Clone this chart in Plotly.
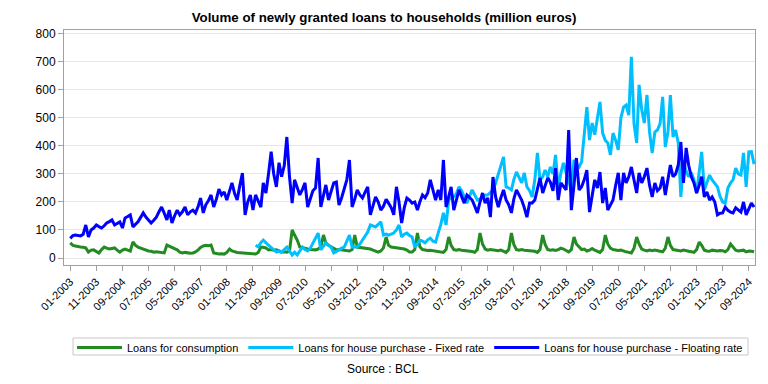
import pandas as pd
import plotly.graph_objects as go

start_month = "2003-01-01"
n_months = 263

consumption = [
    54, 45, 43, 40, 39, 38, 36, 21, 28, 29, 24, 18,
    30, 39, 35, 32, 34, 36, 28, 21, 28, 32, 28, 25,
    57, 45, 39, 35, 32, 28, 25, 24, 21, 22, 21, 20,
    18, 46, 42, 39, 33, 29, 21, 18, 20, 18, 17, 18,
    22, 29, 38, 43, 45, 44, 46, 18, 15, 14, 15, 14,
    20, 32, 25, 21, 20, 19, 18, 17, 18, 16, 15, 14,
    20, 39, 38, 36, 29, 30, 28, 29, 25, 21, 22, 21,
    25, 100, 82, 64, 39, 36, 34, 32, 30, 29, 29, 32,
    39, 82, 54, 45, 39, 32, 29, 30, 29, 29, 27, 25,
    30, 82, 39, 38, 36, 36, 34, 32, 28, 25, 21, 25,
    36, 75, 45, 39, 38, 36, 35, 34, 32, 28, 21, 21,
    30, 89, 40, 30, 28, 27, 28, 26, 25, 24, 22, 20,
    30, 75, 45, 30, 28, 30, 28, 27, 25, 26, 23, 20,
    30, 89, 50, 32, 28, 30, 28, 27, 26, 28, 24, 20,
    30, 89, 48, 30, 28, 30, 28, 27, 27, 25, 24, 20,
    30, 82, 48, 30, 28, 29, 27, 30, 35, 32, 26, 22,
    30, 75, 50, 40, 30, 32, 25, 28, 34, 28, 25, 20,
    30, 82, 50, 35, 30, 28, 27, 28, 24, 22, 20, 18,
    35, 75, 50, 32, 28, 25, 28, 26, 28, 25, 24, 22,
    35, 75, 45, 30, 28, 26, 25, 28, 25, 24, 22, 20,
    30, 57, 45, 28, 25, 24, 28, 26, 25, 27, 26, 22,
    30, 50, 40, 28, 25, 27, 28, 22, 25, 24, 22,
]

fixed_rate = [None] * 71 + [
    45,
    40, 55, 64, 54, 45, 36, 28, 21, 25, 21, 30, 39,
    25, 11, 21, 11, 25, 39, 30, 25, 35, 54, 70, 89,
    29, 40, 54, 45, 39, 18, 25, 29, 35, 39, 60, 82,
    39, 40, 39, 50, 64, 80, 93, 118, 115, 111, 120, 129,
    82, 85, 82, 85, 89, 100, 118, 75, 85, 89, 80, 75,
    39, 50, 64, 60, 54, 65, 71, 60, 57, 89, 120, 161,
    118, 207, 215, 218, 230, 254, 240, 218, 196, 220, 243, 225,
    207, 210, 218, 225, 225, 235, 243, 268, 300, 325, 361, 254,
    250, 243, 280, 307, 290, 268, 304, 254, 240, 218, 279, 375,
    279, 290, 314, 290, 325, 300, 368, 243, 304, 340, 304, 280,
    236, 350, 332, 325, 343, 432, 539, 421, 482, 440, 493, 557,
    446, 420, 411, 368, 446, 420, 386, 500, 539, 546, 510, 718,
    480, 411, 618, 529, 482, 582, 450, 375, 450, 457, 480, 575,
    396, 450, 582, 432, 457, 411, 218, 339, 310, 290, 304, 279,
    232, 300, 379, 243, 270, 296, 279, 265, 254, 220, 200, 196,
    250, 268, 279, 321, 300, 296, 375, 254, 379, 380, 335,
]

floating_rate = [
    70, 80, 82, 80, 79, 85, 118, 75, 100, 107, 118, 112,
    107, 115, 125, 130, 136, 118, 125, 129, 107, 143, 148, 154,
    111, 120, 129, 145, 161, 146, 135, 125, 135, 146, 165, 182,
    160, 136, 171, 125, 150, 171, 154, 165, 182, 154, 165, 171,
    161, 185, 214, 161, 190, 205, 225, 182, 210, 246, 225, 236,
    207, 240, 268, 230, 207, 260, 303, 154, 200, 225, 171, 225,
    200, 182, 268, 232, 300, 380, 300, 254, 340, 290, 330, 432,
    290, 196, 279, 250, 225, 245, 268, 182, 210, 240, 250, 357,
    182, 220, 261, 207, 240, 268, 271, 189, 215, 243, 280, 350,
    182, 210, 243, 225, 214, 235, 254, 154, 190, 218, 200, 171,
    185, 210, 196, 180, 154, 254, 200, 125, 180, 214, 207, 196,
    200, 171, 200, 225, 215, 232, 279, 240, 207, 243, 207, 350,
    182, 220, 254, 171, 210, 243, 220, 196, 225, 215, 207, 185,
    161, 200, 232, 196, 215, 146, 289, 218, 182, 215, 243, 207,
    190, 161, 210, 243, 225, 207, 180, 146, 196, 196, 207, 250,
    286, 232, 260, 286, 271, 240, 321, 207, 268, 255, 243, 457,
    171, 260, 357, 243, 254, 280, 314, 164, 230, 279, 250, 307,
    196, 250, 171, 190, 207, 260, 304, 207, 304, 268, 290, 325,
    280, 232, 304, 268, 290, 321, 260, 218, 268, 240, 250, 290,
    225, 280, 332, 290, 300, 332, 414, 268, 393, 330, 290, 268,
    232, 260, 290, 218, 236, 207, 218, 200, 154, 160, 161, 182,
    170, 164, 161, 179, 170, 164, 200, 154, 175, 196, 182,
]

series_names = [
    "Loans for consumption",
    "Loans for house purchase - Fixed rate",
    "Loans for house purchase - Floating rate",
]
series_colors = ["#228B22", "#00BFFF", "#0000FF"]
y_ticks = [0, 100, 200, 300, 400, 500, 600, 700, 800]

dates = pd.date_range(start_month, periods=n_months, freq="MS")

fig = go.Figure()
for name, vals, col in zip(series_names, [consumption, fixed_rate, floating_rate], series_colors):
    fig.add_trace(go.Scatter(
        x=dates, y=vals, name=name, mode="lines",
        line=dict(color=col, width=3), connectgaps=False,
    ))

# plot area in pixels: left 64, right 755, top 30, bottom 265
PL, PR, PT, PB = 64, 755, 30, 265
PW, PH = PR - PL, PB - PT


def px_x(px):
    return (px - PL) / PW


def px_y(py):
    return (PB - py) / PH


font_family = "Liberation Sans, Arial, sans-serif"
fig.update_layout(
    width=768, height=384,
    paper_bgcolor="white", plot_bgcolor="white",
    font=dict(family=font_family, size=12, color="#000000"),
    margin=dict(l=PL, r=768 - PR, t=PT, b=384 - PB, autoexpand=False),
    title=dict(
        text="<b>Volume of newly granted loans to households (million euros)</b>",
        x=0.5, xref="container", xanchor="center",
        y=1 - 17 / 384, yref="container", yanchor="middle",
        font=dict(size=13.3, family=font_family, color="#000000"),
    ),
    showlegend=True,
    legend=dict(
        orientation="h",
        xref="paper", yref="paper",
        x=px_x(410), xanchor="center",
        y=px_y(333), yanchor="top",
        borderwidth=0, bgcolor="rgba(0,0,0,0)",
        font=dict(size=11, family=font_family, color="#000000"),
        itemwidth=45,
        tracegroupgap=0,
    ),
    shapes=[dict(
        type="rect", xref="paper", yref="paper",
        x0=px_x(73), x1=px_x(748), y0=px_y(338), y1=px_y(355),
        line=dict(color="#c8c8c8", width=1), fillcolor="rgba(0,0,0,0)",
        layer="below",
    )],
    annotations=[dict(
        text="Source : BCL", showarrow=False,
        xref="paper", yref="paper",
        x=px_x(383), y=px_y(369),
        xanchor="center", yanchor="middle",
        font=dict(size=12, family=font_family, color="#000000"),
    )],
)

fig.update_xaxes(
    type="date",
    range=["2002-10-20", "2024-11-12"],
    tick0="2003-01-01", dtick="M10", tickformat="%m-%Y",
    tickangle=-45,
    ticks="outside", ticklen=5, tickcolor="#a0a0a0",
    showline=True, linecolor="#a0a0a0", linewidth=1, mirror=True,
    showgrid=False, zeroline=False,
    tickfont=dict(size=11, family=font_family, color="#000000"),
)
fig.update_yaxes(
    range=[-25, 814],
    tickvals=y_ticks,
    ticks="outside", ticklen=5, tickcolor="#a0a0a0",
    showline=True, linecolor="#a0a0a0", linewidth=1, mirror=True,
    showgrid=True, gridcolor="#e6e6e6", gridwidth=1,
    zeroline=False,
    tickfont=dict(size=12, family=font_family, color="#000000"),
)

fig.write_html(
    "out.html",
    config={"displayModeBar": False},
    post_script="document.body.style.margin='0';",
)
